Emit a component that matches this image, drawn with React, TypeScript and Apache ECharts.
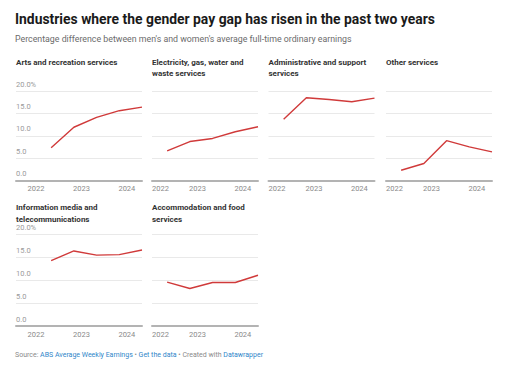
import React, { useEffect, useRef } from "react";
import * as echarts from "echarts";

const periods = ["2022-05", "2022-11", "2023-05", "2023-11", "2024-05"];
const panelTitles = [
  "Arts and recreation services",
  "Electricity, gas, water and\nwaste services",
  "Administrative and support\nservices",
  "Other services",
  "Information media and\ntelecommunications",
  "Accommodation and food\nservices",
];
const arts = [7.3, 11.9, 14.1, 15.6, 16.4];
const electricity = [6.6, 8.7, 9.4, 10.9, 12.0];
const admin = [13.7, 18.5, 18.1, 17.6, 18.4];
const other = [2.3, 3.8, 8.9, 7.5, 6.4];
const info = [14.3, 16.4, 15.5, 15.6, 16.6];
const accom = [9.6, 8.2, 9.5, 9.5, 11.1];
const yTicks = [0, 5, 10, 15, 20];

const seriesValues = [arts, electricity, admin, other, info, accom];

const toYear = (p: string) => {
  const [y, m] = p.split("-").map(Number);
  return y + (m - 1) / 12;
};

export default function App() {
  const ref = useRef<HTMLDivElement>(null);
  useEffect(() => {
    if (!ref.current) return;
    const chart = echarts.init(ref.current, undefined, { renderer: "svg" });
    const font = "Roboto, 'Noto Sans', sans-serif";
    const xs = periods.map(toYear);
    const xMax = xs[xs.length - 1];
    const plotW = 106;
    const perYear = plotW / (xMax - 2022);

    const cols = [
      { left: 16, width: 126, labels: true },
      { left: 152, width: 106, labels: false },
      { left: 268.5, width: 106, labels: false },
      { left: 386, width: 106, labels: false },
    ];
    const rows = [
      { top: 91, height: 89.5, titleTop: 56.5 },
      { top: 234.5, height: 91.5, titleTop: 202 },
    ];
    const layout = [
      [0, 0], [0, 1], [0, 2], [0, 3], [1, 0], [1, 1],
    ];

    const grids: any[] = [];
    const xAxes: any[] = [];
    const yAxes: any[] = [];
    const series: any[] = [];
    const titles: any[] = [
      {
        text: "Industries where the gender pay gap has risen in the past two years",
        left: 15,
        top: 10,
        padding: 0,
        textStyle: { fontFamily: font, fontSize: 13.9, fontWeight: "bold", color: "#1a1a1a", lineHeight: 18 },
      },
      {
        text: "Percentage difference between men's and women's average full-time ordinary earnings",
        left: 15,
        top: 33.5,
        padding: 0,
        textStyle: { fontFamily: font, fontSize: 8.8, fontWeight: "normal", color: "#6b6b6b", lineHeight: 11 },
      },
      {
        text: "{g|Source: }{b|ABS Average Weekly Earnings}{g| • }{b|Get the data}{g| • Created with }{b|Datawrapper}",
        left: 15,
        top: 351,
        padding: 0,
        textStyle: {
          fontFamily: font,
          fontSize: 7,
          fontWeight: "normal",
          rich: {
            g: { fontFamily: font, fontSize: 7, fontWeight: "normal", color: "#8a8a8a" },
            b: { fontFamily: font, fontSize: 7, fontWeight: "normal", color: "#2f86c9" },
          },
        },
      },
    ];

    layout.forEach(([r, c], i) => {
      const col = cols[c];
      const row = rows[r];
      grids.push({ left: col.left, top: row.top, width: col.width, height: row.height, containLabel: false });
      const xMin = xMax - col.width / perYear;
      xAxes.push({
        type: "value",
        gridIndex: i,
        min: xMin,
        max: xMax,
        splitNumber: 5,
        axisLine: { show: true, lineStyle: { color: "#b3b3b3", width: 2 } },
        axisTick: { show: false },
        splitLine: { show: false },
        axisLabel: {
          show: true,
          margin: 4,
          fontFamily: font,
          fontSize: 7.5,
          color: "#8a8a8a",
          alignMinLabel: "left",
          showMaxLabel: false,
          formatter: (v: number) =>
            Math.abs(v - Math.round(v)) < 1e-6 ? String(Math.round(v)) : "",
        },
      });
      yAxes.push({
        type: "value",
        gridIndex: i,
        min: yTicks[0],
        max: yTicks[yTicks.length - 1],
        interval: yTicks[1] - yTicks[0],
        axisLine: { show: false },
        axisTick: { show: false },
        splitLine: { show: true, lineStyle: { color: "#e9e9e9", width: 1 } },
        axisLabel: {
          show: col.labels,
          inside: true,
          margin: 0,
          align: "left",
          verticalAlign: "bottom",
          padding: [0, 0, 3, 0],
          fontFamily: font,
          fontSize: 7.5,
          color: "#9a9a9a",
          formatter: (v: number) =>
            v === yTicks[yTicks.length - 1] ? v.toFixed(1) + "%" : v.toFixed(1),
        },
      });
      series.push({
        type: "line",
        xAxisIndex: i,
        yAxisIndex: i,
        data: xs.map((x, k) => [x, seriesValues[i][k]]),
        symbol: "none",
        lineStyle: { color: "#d03a3a", width: 1.4 },
        itemStyle: { color: "#d03a3a" },
      });
      titles.push({
        text: panelTitles[i],
        left: col.left,
        top: row.titleTop,
        padding: 0,
        textStyle: { fontFamily: font, fontSize: 8, fontWeight: "bold", color: "#333333", lineHeight: 11.5 },
      });
    });

    chart.setOption({
      animation: false,
      backgroundColor: "#ffffff",
      title: titles,
      grid: grids,
      xAxis: xAxes,
      yAxis: yAxes,
      series,
    });
    return () => chart.dispose();
  }, []);
  return (
    <div
      ref={ref}
      style={{ position: "absolute", left: 0, top: 0, width: 509, height: 374 }}
    />
  );
}
